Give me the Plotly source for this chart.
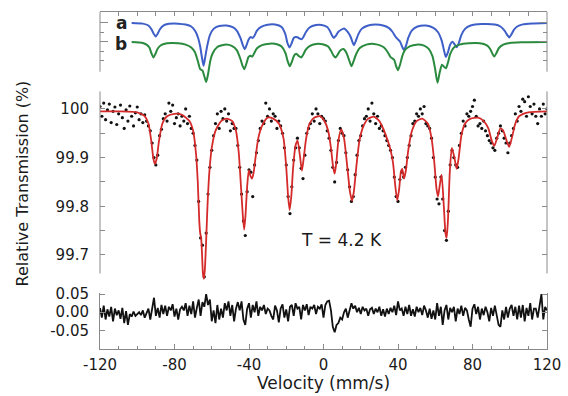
import plotly.graph_objects as go

# ---------------- data ----------------
# Fitted total curve (red), key points: velocity (mm/s), relative transmission (%)
fit_v = [-120, -110, -100, -96, -94, -92.5, -91.3, -90.5, -89.6, -88.3, -86.5, -84, -80, -76, -72, -70,
         -68.5, -67.5, -66.7, -66.2, -65.7, -65.2, -64.7, -64.2, -63.7, -63.0, -62.3, -61.3, -60, -58, -55,
         -52, -49, -47, -45.5, -44.3, -43.3, -42.6, -41.9, -41, -40.1, -39.2, -38.4, -37.5, -36.5, -35, -33,
         -30, -27, -24, -21.5, -20, -19, -18.2, -17.3, -16.3, -15, -13.9, -12.7, -11.6, -10.6, -9.3, -7.5,
         -5, -2, 0.5, 2.5, 4, 5.2, 6, 6.9, 8, 9.5, 11, 12.8, 14.2, 15.3, 16.3, 17.6, 19.3, 21.5, 24, 27, 30,
         32, 34, 35.7, 37.3, 38.6, 39.6, 40.6, 41.6, 42.3, 43.2, 44.2, 45.5, 47.5, 50, 53, 56, 58, 59.5, 60.7,
         61.5, 62.3, 63.4, 64.6, 65.5, 66.1, 66.8, 67.8, 68.9, 70.3, 71.5, 72.6, 74, 76, 79, 83, 86, 88.5,
         90.3, 91.7, 93.2, 95, 96.5, 98.3, 99.7, 101.1, 103, 105, 110, 120]
fit_t = [99.995, 99.995, 99.993, 99.985, 99.97, 99.935, 99.897, 99.887, 99.897, 99.935, 99.97, 99.985, 99.99,
         99.988, 99.975, 99.955, 99.91, 99.85, 99.77, 99.745, 99.735, 99.70, 99.66, 99.651, 99.67, 99.73, 99.80,
         99.87, 99.92, 99.955, 99.975, 99.98, 99.975, 99.955, 99.91, 99.84, 99.78, 99.752, 99.78, 99.84, 99.874,
         99.862, 99.857, 99.87, 99.90, 99.94, 99.965, 99.982, 99.98, 99.97, 99.94, 99.88, 99.82, 99.792, 99.82,
         99.88, 99.925, 99.935, 99.905, 99.873, 99.90, 99.94, 99.97, 99.982, 99.985, 99.975, 99.955, 99.92,
         99.88, 99.867, 99.89, 99.935, 99.958, 99.94, 99.88, 99.83, 99.811, 99.83, 99.88, 99.935, 99.965, 99.98,
         99.984, 99.975, 99.96, 99.94, 99.92, 99.89, 99.84, 99.812, 99.835, 99.872, 99.877, 99.857, 99.873,
         99.915, 99.955, 99.975, 99.98, 99.97, 99.94, 99.89, 99.835, 99.82, 99.84, 99.865, 99.80, 99.745, 99.735,
         99.77, 99.87, 99.92, 99.90, 99.877, 99.90, 99.945, 99.97, 99.98, 99.982, 99.975, 99.96, 99.935, 99.924,
         99.94, 99.96, 99.955, 99.935, 99.922, 99.94, 99.97, 99.985, 99.993, 99.995]

# Measured points (black dots), one per velocity channel from -120 to 120 mm/s
data_v = list(range(-120, 121))
data_t = [
    100.005, 99.985, 100.012, 99.978, 99.998, 100.010, 99.972, 99.995, 100.004, 99.968,
    99.990, 100.008, 99.982, 99.960, 99.998, 99.975, 100.006, 99.985, 99.965, 99.992,
    100.004, 99.978, 99.990, 99.972, 99.988, 99.975, 99.965, 99.955, 99.930, 99.900,
    99.885, 99.905, 99.945, 99.958, 99.980, 99.990, 99.975, 100.012, 99.995, 100.008,
    99.970, 99.982, 99.990, 99.965, 99.985, 99.975, 100.000, 99.970, 99.985, 99.960,
    99.950, 99.925, 99.895, 99.810, 99.735, 99.720, 99.655, 99.745, 99.825, 99.880,
    99.915, 99.945, 99.970, 99.990, 99.960, 99.995, 99.980, 100.000, 99.975, 99.990,
    99.955, 99.970, 99.960, 99.960, 99.925, 99.880, 99.825, 99.770, 99.740, 99.830,
    99.875, 99.870, 99.820, 99.885, 99.910, 99.935, 99.960, 99.975, 99.970, 100.012,
    99.985, 100.000, 99.975, 99.990, 99.985, 99.960, 99.975, 99.965, 99.950, 99.920,
    99.885, 99.820, 99.785, 99.840, 99.895, 99.920, 99.940, 99.920, 99.878, 99.857,
    99.905, 99.950, 99.960, 99.970, 99.990, 99.975, 100.000, 99.990, 99.970, 99.985,
    99.980, 99.975, 99.955, 99.940, 99.915, 99.880, 99.850, 99.890, 99.935, 99.960,
    99.950, 99.945, 99.910, 99.875, 99.840, 99.810, 99.820, 99.865, 99.905, 99.935,
    99.945, 99.965, 99.980, 99.985, 100.000, 99.975, 100.012, 99.990, 99.970, 99.985,
    99.960, 99.965, 99.955, 99.945, 99.935, 99.925, 99.915, 99.900, 99.860, 99.820,
    99.810, 99.855, 99.870, 99.860, 99.880, 99.900, 99.925, 99.945, 99.970, 99.975,
    99.990, 99.985, 100.000, 99.990, 100.005, 99.970, 99.965, 99.960, 99.940, 99.900,
    99.860, 99.815, 99.805, 99.860, 99.815, 99.750, 99.730, 99.790, 99.885, 99.915,
    99.900, 99.885, 99.880, 99.925, 99.950, 99.975, 99.965, 99.990, 99.985, 99.995,
    100.005, 100.018, 99.985, 99.965, 99.970, 99.960, 99.975, 99.955, 99.945, 99.935,
    99.930, 99.920, 99.915, 99.940, 99.950, 99.965, 99.955, 99.940, 99.930, 99.910,
    99.930, 99.945, 99.960, 99.990, 99.975, 100.005, 99.995, 100.020, 100.015, 99.985,
    100.025, 100.005, 99.990, 100.010, 99.985, 99.970, 100.000, 99.985, 100.010, 99.990,
    100.000]

# Residuals (bottom panel), same channels
resid = [
    0.012, -0.015, 0.018, -0.020, 0.008, -0.012, 0.015, -0.025, 0.010, -0.008,
    0.005, -0.018, 0.012, -0.030, 0.003, -0.035, -0.005, -0.012, 0.002, -0.010,
    -0.005, 0.000, -0.008, 0.005, -0.015, -0.002, 0.010, -0.020, 0.015, 0.040,
    -0.010, 0.012, -0.015, 0.020, -0.005, 0.018, -0.010, 0.015, 0.005, 0.022,
    -0.012, 0.010, -0.020, 0.008, 0.015, 0.005, 0.025, -0.010, 0.018, -0.005,
    0.030, -0.015, 0.012, 0.035, -0.010, 0.028, 0.015, 0.050, 0.020, 0.035,
    -0.025, 0.005, -0.030, 0.020, -0.020, 0.010, -0.015, 0.025, 0.005, 0.030,
    -0.010, 0.020, -0.025, 0.010, 0.028, 0.005, 0.030, -0.020, -0.035, 0.010,
    0.025, -0.015, 0.020, 0.000, 0.030, -0.010, 0.015, 0.005, 0.020, -0.005,
    0.010, 0.005, -0.010, -0.020, 0.018, 0.005, -0.028, 0.010, 0.022, -0.015,
    0.008, -0.025, 0.015, 0.020, -0.010, 0.025, 0.010, 0.015, -0.020, 0.020,
    0.005, 0.022, -0.008, 0.015, 0.010, 0.020, -0.005, 0.015, 0.010, 0.022,
    -0.015, 0.020, 0.030, 0.032, 0.005, -0.040, -0.055, -0.035, -0.030, -0.015,
    -0.020, 0.000, 0.010, -0.015, 0.005, 0.025, 0.010, 0.018, 0.000, 0.012,
    -0.005, 0.015, 0.005, 0.010, -0.010, 0.008, 0.012, -0.005, 0.010, 0.000,
    0.015, -0.010, 0.008, -0.012, 0.010, -0.005, 0.012, 0.000, 0.018, -0.008,
    0.030, 0.005, 0.010, -0.010, 0.015, -0.005, 0.020, -0.010, 0.008, -0.012,
    0.015, 0.000, 0.012, -0.008, 0.018, 0.005, -0.015, 0.010, -0.018, 0.005,
    -0.020, 0.025, -0.010, 0.015, -0.035, 0.005, 0.020, -0.020, 0.012, 0.000,
    0.015, -0.025, 0.010, -0.005, 0.018, -0.010, 0.012, 0.005, -0.020, -0.040,
    0.010, 0.022, -0.005, 0.015, -0.020, 0.010, -0.008, 0.015, 0.000, -0.025,
    0.012, -0.010, 0.018, -0.005, -0.035, -0.040, 0.005, -0.020, 0.015, -0.015,
    0.010, 0.020, -0.010, 0.015, -0.020, 0.018, -0.015, 0.020, -0.025, 0.012,
    -0.010, 0.025, -0.020, 0.010, 0.010, -0.015, 0.012, 0.050, -0.020, 0.015,
    0.005]

# Sub-spectrum a (blue), arbitrary units, baseline 0
comp_a_v = [-103, -97, -94, -92.3, -91.2, -90.1, -89, -87.9, -86, -83, -78, -74, -71, -68.8, -67.3, -66.2,
            -65.3, -64.4, -63.5, -62.4, -61, -59, -56, -52, -48.5, -46.5, -44.6, -43.4, -42.3, -41.2, -40.2,
            -39, -38, -37, -35.8, -33.5, -30, -26, -22.5, -20.5, -19.4, -18.3, -17.2, -16, -15, -14, -13,
            -11.8, -10.8, -9.5, -7.5, -4, -1, 2, 3.4, 4.6, 5.6, 6.7, 8, 11, 13, 14.6, 15.5, 16.3, 17.3, 18.5,
            20.5, 24, 28, 32, 35, 37, 38.6, 39.7, 41, 42.2, 43.2, 44.3, 45.5, 47.5, 50.5, 55, 59, 61.5, 63.5,
            64.7, 65.7, 66.8, 68, 69.3, 70.5, 71.6, 72.7, 74, 76, 79, 85, 92, 95, 97.3, 98.7, 99.7, 100.8,
            102.2, 104, 107, 112, 120]
comp_a_y = [-0.03, -0.10, -0.30, -0.72, -1.15, -1.44, -1.15, -0.72, -0.30, -0.12, -0.10, -0.20, -0.40, -0.90,
            -1.60, -2.50, -3.60, -4.50, -3.60, -2.40, -1.30, -0.65, -0.35, -0.30, -0.50, -0.85, -1.60, -2.30,
            -2.77, -2.30, -1.75, -1.50, -1.60, -1.35, -0.85, -0.45, -0.22, -0.20, -0.45, -1.20, -2.10, -2.60,
            -2.20, -1.60, -1.50, -1.52, -1.65, -1.74, -1.50, -1.00, -0.50, -0.25, -0.25, -0.45, -0.85, -1.35,
            -1.60, -1.35, -0.95, -0.60, -0.95, -1.50, -2.00, -2.36, -1.95, -1.30, -0.65, -0.30, -0.20, -0.30,
            -0.55, -0.95, -1.45, -1.70, -1.95, -2.50, -2.87, -2.40, -1.60, -0.80, -0.40, -0.30, -0.55, -1.00,
            -1.90, -2.90, -3.60, -3.10, -2.30, -2.00, -2.30, -2.56, -2.10, -1.30, -0.65, -0.30, -0.15, -0.20,
            -0.40, -0.85, -1.30, -1.54, -1.25, -0.75, -0.40, -0.18, -0.08, -0.03]

# Sub-spectrum b (green), arbitrary units, baseline 0
comp_b_v = [-103, -97, -95, -93.5, -92.4, -91.3, -90.2, -89, -87, -84, -78, -74, -71, -69, -67.5, -66.2, -65,
            -64, -63, -62, -60.8, -59.5, -57, -53, -49, -46.5, -44.6, -43.5, -42.5, -41.4, -40.3, -39.2, -38.2,
            -37.2, -35.8, -33, -29, -25, -22.5, -20.4, -19.2, -18.1, -17, -15.8, -14.6, -13.2, -12, -10.9,
            -9.6, -7.5, -4, -0.5, 2.5, 4.2, 5.4, 6.5, 7.6, 9, 10.8, 12.3, 13.8, 15, 16.2, 17.5, 19.5, 23, 27,
            30, 32.5, 34.5, 36, 37, 38, 39, 40, 41.1, 42.3, 44, 46.5, 50, 54, 56.5, 58.5, 59.9, 61.2, 62.4,
            63.6, 64.7, 65.7, 66.8, 68, 70, 73, 78, 84, 87.5, 89.5, 90.7, 91.7, 92.8, 94.2, 96.5, 100, 106, 120]
comp_b_y = [-0.03, -0.12, -0.30, -0.60, -1.20, -1.64, -1.25, -0.70, -0.32, -0.15, -0.15, -0.30, -0.60, -1.10,
            -2.00, -2.87, -3.00, -3.60, -4.20, -3.40, -2.00, -1.20, -0.55, -0.30, -0.45, -0.90, -1.80, -2.50,
            -2.87, -2.30, -1.60, -1.45, -1.54, -1.20, -0.70, -0.35, -0.20, -0.25, -0.50, -1.20, -2.05, -2.56,
            -2.10, -1.45, -1.25, -1.50, -1.64, -1.35, -0.85, -0.45, -0.22, -0.25, -0.50, -1.00, -1.45, -1.64,
            -1.35, -0.90, -0.75, -1.15, -1.95, -2.56, -2.00, -1.30, -0.65, -0.30, -0.22, -0.35, -0.60, -1.10,
            -1.60, -1.74, -1.90, -2.55, -2.97, -2.40, -1.50, -0.80, -0.45, -0.30, -0.40, -0.75, -1.50, -2.80,
            -4.30, -3.20, -2.40, -2.60, -2.77, -2.20, -1.30, -0.60, -0.30, -0.15, -0.15, -0.35, -0.75, -1.25,
            -1.54, -1.20, -0.65, -0.30, -0.12, -0.05, -0.02]

x_ticks = [-120, -80, -40, 0, 40, 80, 120]
x_labels = ["-120", "-80", "-40", "0", "40", "80", "120"]
t_ticks = [100, 99.9, 99.8, 99.7]
t_labels = ["100", "99.9", "99.8", "99.7"]
r_ticks = [0.05, 0.0, -0.05]
r_labels = ["0.05", "0.00", "-0.05"]

# ---------------- styling / layout ----------------
B_OFFSET = -2.0
AX = "#8a8a8a"
FONT = "DejaVu Sans"
TXT = "#1a1a1a"

fig = go.Figure()
fig.add_trace(go.Scatter(x=comp_a_v, y=comp_a_y, mode="lines", xaxis="x2", yaxis="y4",
                         line=dict(color="#3f5fc8", width=2, shape="spline", smoothing=0.6)))
fig.add_trace(go.Scatter(x=comp_b_v, y=[u + B_OFFSET for u in comp_b_y], mode="lines", xaxis="x2", yaxis="y4",
                         line=dict(color="#2a8a3e", width=2, shape="spline", smoothing=0.6)))
fig.add_trace(go.Scatter(x=data_v, y=data_t, mode="markers", xaxis="x", yaxis="y2",
                         marker=dict(color="#111111", size=3.2)))
fig.add_trace(go.Scatter(x=fit_v, y=fit_t, mode="lines", xaxis="x", yaxis="y2",
                         line=dict(color="#d42a2a", width=1.8, shape="spline", smoothing=0.6)))
fig.add_trace(go.Scatter(x=data_v, y=resid, mode="lines", xaxis="x", yaxis="y",
                         line=dict(color="#111111", width=1.8)))

tickfont = dict(family=FONT, size=15, color=TXT)

def py(px_val):
    return (349 - px_val) / 349.0

fig.update_layout(
    width=568, height=396, margin=dict(l=100, r=21, t=0, b=47),
    paper_bgcolor="white", plot_bgcolor="white", showlegend=False,
    xaxis=dict(domain=[0, 1], anchor="y", range=[-120, 120], showgrid=False, zeroline=False,
               showline=True, linecolor=AX, linewidth=1, ticks="inside", ticklen=5, tickcolor=AX,
               tickvals=x_ticks, ticktext=x_labels, tickfont=tickfont, ticklabelstandoff=2,
               minor=dict(dtick=10, tick0=0, ticks="inside", ticklen=3, tickcolor=AX, showgrid=False)),
    yaxis=dict(domain=[0, py(291.5)], anchor="x", range=[-0.1014, 0.054], showgrid=False, zeroline=False,
               showline=True, mirror="ticks", linecolor=AX, linewidth=1, ticks="inside", ticklen=5,
               tickcolor=AX, tickvals=r_ticks, ticktext=r_labels, tickfont=tickfont, ticklabelstandoff=7),
    yaxis2=dict(domain=[py(279), py(83)], anchor="x", range=[99.6477, 100.0423], showgrid=False,
                zeroline=False, showline=False, mirror="ticks", ticks="inside", ticklen=5, tickcolor=AX,
                tickvals=t_ticks, ticktext=t_labels, tickfont=tickfont, ticklabelstandoff=10,
                minor=dict(tickvals=[99.95, 99.85, 99.75], ticks="inside", ticklen=5, tickcolor=AX)),
    xaxis2=dict(domain=[0, 1], anchor="y4", side="top", range=[-120, 120], showgrid=False, zeroline=False,
                showline=True, linecolor=AX, linewidth=1, ticks="inside", ticklen=4, tickcolor=AX,
                dtick=10, tick0=0, showticklabels=False),
    yaxis4=dict(domain=[py(82), py(5)], anchor="x2", range=[-6.769, 1.128], showgrid=False, zeroline=False,
                showline=False, mirror="ticks", ticks="inside", ticklen=8, tickcolor=AX,
                tickvals=[0, B_OFFSET], showticklabels=False,
                minor=dict(tickvals=[-1, -3, -4], ticks="inside", ticklen=4, tickcolor=AX)),
)

line_style = dict(color=AX, width=1)
shapes = []
for xp in (0, 1):
    shapes.append(dict(type="line", xref="paper", yref="y4", x0=xp, x1=xp, y0=-5.13, y1=1.128, line=line_style))
    shapes.append(dict(type="line", xref="paper", yref="y2", x0=xp, x1=xp, y0=99.662, y1=100.036, line=line_style))
fig.update_layout(shapes=shapes)

annotations = [
    dict(text="Velocity (mm/s)", xref="paper", yref="paper", x=0.5, y=py(384), showarrow=False,
         xanchor="center", yanchor="middle", font=dict(family=FONT, size=17, color=TXT)),
    dict(text="Relative Transmission (%)", xref="paper", yref="paper", x=(22 - 100) / 447.0, y=py(180),
         showarrow=False, textangle=-90, xanchor="center", yanchor="middle",
         font=dict(family=FONT, size=16, color=TXT)),
    dict(text="T = 4.2 K", xref="x", yref="y2", x=9.9, y=99.730, showarrow=False,
         xanchor="center", yanchor="middle", font=dict(family=FONT, size=17, color=TXT)),
    dict(text="<b>a</b>", xref="x2", yref="y4", x=-108.5, y=0.0, showarrow=False,
         xanchor="center", yanchor="middle", font=dict(family=FONT, size=17, color="#222222")),
    dict(text="<b>b</b>", xref="x2", yref="y4", x=-108.5, y=B_OFFSET - 0.2, showarrow=False,
         xanchor="center", yanchor="middle", font=dict(family=FONT, size=17, color="#222222")),
]
fig.update_layout(annotations=annotations)

fig.write_html("out.html")
